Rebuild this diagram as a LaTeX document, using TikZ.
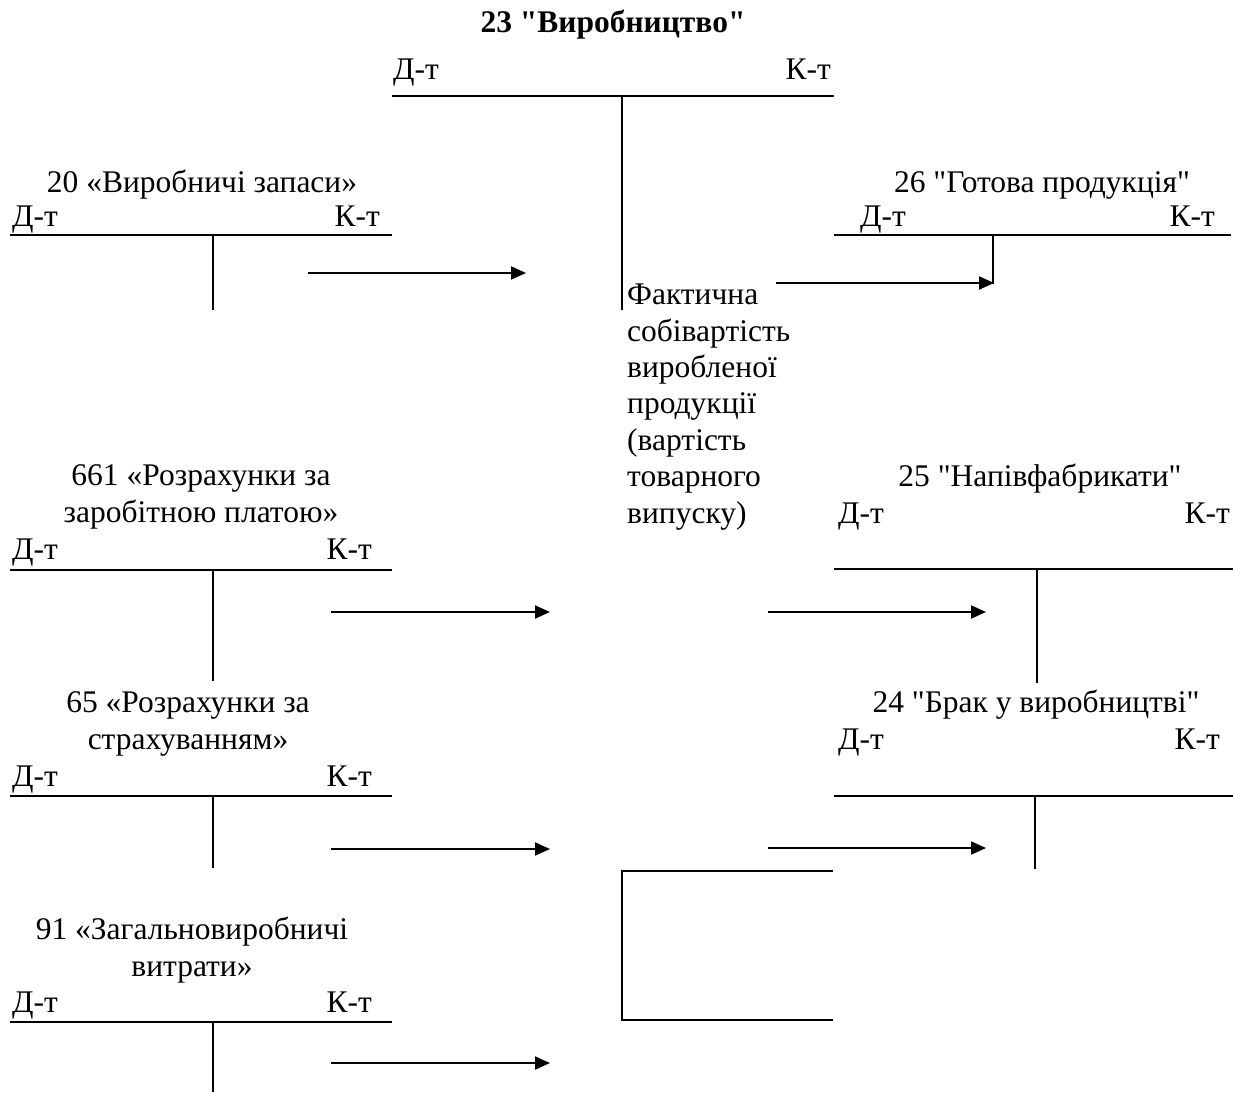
\documentclass[tikz,border=0pt]{standalone}
\usepackage{fontspec}
\setmainfont{Liberation Serif}[Ligatures=TeXOff]
\usetikzlibrary{arrows.meta}
\begin{document}
\begin{tikzpicture}[x=1pt,y=-1pt,
  rule/.style={line width=2pt},
  flow/.style={line width=2pt,-{Triangle[length=15pt,width=13pt]}},
  txt/.style={font=\fontsize{31.5}{37}\selectfont},
  lbl/.style={txt,inner sep=0pt,anchor=base,align=center},
  dt/.style={txt,inner sep=0pt,anchor=base west},
  kt/.style={txt,inner sep=0pt,anchor=base east}]
\useasboundingbox (0,0) rectangle (1233,1092);

% account 23 "Production"
\node[lbl,font=\fontsize{31.5}{37}\selectfont\bfseries] (t23) at (613,32) {23 "Виробництво"};
\node[dt] (d23) at (393,79) {Д-т};
\node[kt] (k23) at (831,79) {К-т};
\draw[rule] (392,96) -- (834,96);
\draw[rule] (622,96) -- (622,310);
% multi-line node: the base anchor sits on the last line
\node[inner sep=0pt,anchor=base west,align=left,font=\fontsize{31.5}{36.4}\selectfont] (fact) at (627,523)
  {Фактична\\собівартість\\виробленої\\продукції\\(вартість\\товарного\\випуску)};

% account 20
\node[lbl] (t20) at (202,192) {20 «Виробничі запаси»};
\node[dt] (d20) at (12,226) {Д-т};
\node[kt] (k20) at (380,226) {К-т};
\draw[rule] (10,235) -- (392,235);
\draw[rule] (213,235) -- (213,310);
\coordinate (a20s) at (308,273);
\coordinate (a20e) at (526,273);
\draw[flow] (a20s) -- (a20e);

% account 661
\node[lbl] (t661) at (201,522) {661 «Розрахунки за\\заробітною платою»};
\node[dt] (d661) at (12,559) {Д-т};
\node[kt] (k661) at (372,559) {К-т};
\draw[rule] (10,570) -- (392,570);
\draw[rule] (213,570) -- (213,681);
\coordinate (a661s) at (331,612);
\coordinate (a661e) at (550,612);
\draw[flow] (a661s) -- (a661e);

% account 65
\node[lbl] (t65) at (188,749) {65 «Розрахунки за\\страхуванням»};
\node[dt] (d65) at (12,786) {Д-т};
\node[kt] (k65) at (372,786) {К-т};
\draw[rule] (10,796) -- (392,796);
\draw[rule] (213,796) -- (213,868);
\coordinate (a65s) at (331,849);
\coordinate (a65e) at (550,849);
\draw[flow] (a65s) -- (a65e);

% account 91
\node[lbl] (t91) at (192,976) {91 «Загальновиробничі\\витрати»};
\node[dt] (d91) at (12,1012) {Д-т};
\node[kt] (k91) at (372,1012) {К-т};
\draw[rule] (10,1022) -- (392,1022);
\draw[rule] (213,1022) -- (213,1092);
\coordinate (a91s) at (331,1063);
\coordinate (a91e) at (550,1063);
\draw[flow] (a91s) -- (a91e);

% account 26
\node[lbl] (t26) at (1042,192) {26 "Готова продукція"};
\node[dt] (d26) at (860,226) {Д-т};
\node[kt] (k26) at (1215,226) {К-т};
\draw[rule] (834,235) -- (1231,235);
\draw[rule] (993,235) -- (993,284);
\coordinate (a26s) at (776,283);
\coordinate (a26e) at (994,283);
\draw[flow] (a26s) -- (a26e);

% account 25
\node[lbl] (t25) at (1040,486) {25 "Напівфабрикати"};
\node[dt] (d25) at (838,523) {Д-т};
\node[kt] (k25) at (1230,523) {К-т};
\draw[rule] (834,569) -- (1233,569);
\draw[rule] (1037,569) -- (1037,683);
\coordinate (a25s) at (768,612);
\coordinate (a25e) at (986,612);
\draw[flow] (a25s) -- (a25e);

% account 24
\node[lbl] (t24) at (1036,712) {24 "Брак у виробництві"};
\node[dt] (d24) at (838,749) {Д-т};
\node[kt] (k24) at (1220,749) {К-т};
\draw[rule] (834,796) -- (1233,796);
\draw[rule] (1035,796) -- (1035,869);
\coordinate (a24s) at (768,848);
\coordinate (a24e) at (986,848);
\draw[flow] (a24s) -- (a24e);

% open frame below the production account
\draw[rule] (833,871) -- (622,871) -- (622,1020) -- (833,1020);
\end{tikzpicture}
\end{document}
